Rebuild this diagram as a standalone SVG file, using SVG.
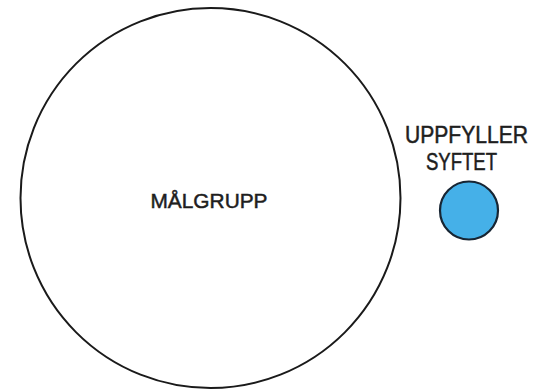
<svg xmlns="http://www.w3.org/2000/svg" width="539" height="389" viewBox="0 0 539 389">
<style>
.lbl{font-family:"Liberation Sans",Arial,sans-serif;fill:#1e1e1e;stroke:#1e1e1e;stroke-width:0.5;text-anchor:middle}
</style>
<rect width="539" height="389" fill="#ffffff"/>
<g id="malgrupp">
<circle cx="210.5" cy="198" r="190" fill="#ffffff" stroke="#1a1a1a" stroke-width="2"/>
<text class="lbl" x="209" y="208" font-size="21" textLength="117" lengthAdjust="spacingAndGlyphs">MÅLGRUPP</text>
</g>
<g id="uppfyller">
<text class="lbl" x="466.5" y="142.5" font-size="23" textLength="123" lengthAdjust="spacingAndGlyphs">UPPFYLLER</text>
<text class="lbl" x="461.5" y="169.5" font-size="23" textLength="71" lengthAdjust="spacingAndGlyphs">SYFTET</text>
<circle cx="469" cy="210.5" r="29" fill="#45b0e8" stroke="#172533" stroke-width="2.2"/>
</g>
<g id="connectors"/>
</svg>
